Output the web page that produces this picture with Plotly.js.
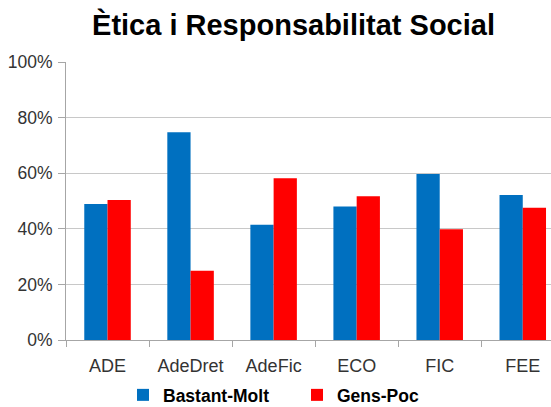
<!DOCTYPE html>
<html><head><meta charset="utf-8">
<script src="https://cdn.plot.ly/plotly-3.0.1.min.js"></script>
<style>body{margin:0;background:#fff}#c{width:551px;height:407px}</style>
</head><body><div id="c"></div>
<script>
const categories = ["ADE","AdeDret","AdeFic","ECO","FIC","FEE"];
const bastantMolt = [0.489, 0.747, 0.415, 0.480, 0.597, 0.522];
const gensPoc = [0.504, 0.249, 0.582, 0.517, 0.398, 0.476];
const yTicks = [0, 0.2, 0.4, 0.6, 0.8, 1.0];

const data = [
  {type:'bar', name:'Bastant-Molt', x:categories, y:bastantMolt, marker:{color:'#0070C0'}},
  {type:'bar', name:'Gens-Poc', x:categories, y:gensPoc, marker:{color:'#FF0000'}}
];
const layout = {
  width:551, height:407,
  margin:{l:66, r:0, t:62, b:67},
  paper_bgcolor:'#fff', plot_bgcolor:'#fff',
  barmode:'group', bargap:0.44, bargroupgap:0,
  title:{text:'<b>Ètica i Responsabilitat Social</b>', font:{family:'Liberation Sans, Arial', size:29, color:'#000'},
    x:0.5327, xanchor:'center', y:0.9386, yanchor:'middle', xref:'container', yref:'container'},
  xaxis:{range:[-0.5, 5.34], showline:true, linecolor:'#a6a6a6', linewidth:1,
    ticks:'outside', tickson:'boundaries', ticklen:6, tickcolor:'#a6a6a6',
    tickfont:{family:'Liberation Sans, Arial', size:18, color:'#333'}, ticklabelstandoff:9, fixedrange:true},
  yaxis:{range:[0,1], tickvals:yTicks, tickformat:'.0%', showline:true, linecolor:'#a6a6a6', linewidth:1,
    ticks:'outside', ticklen:7, tickcolor:'#a6a6a6', gridcolor:'#c8c8c8', gridwidth:1, zeroline:false,
    tickfont:{family:'Liberation Sans, Arial', size:17.5, color:'#333'}, ticklabelstandoff:2},
  legend:{orientation:'h', x:0.1175, xanchor:'left', y:0.0295, yanchor:'middle', yref:'container',
    font:{family:'Liberation Sans, Arial', size:17.5, color:'#000', weight:'bold'}, itemwidth:30, entrywidth:129},
  showlegend:true
};
Plotly.newPlot('c', data, layout, {displayModeBar:false, staticPlot:true});
</script></body></html>
